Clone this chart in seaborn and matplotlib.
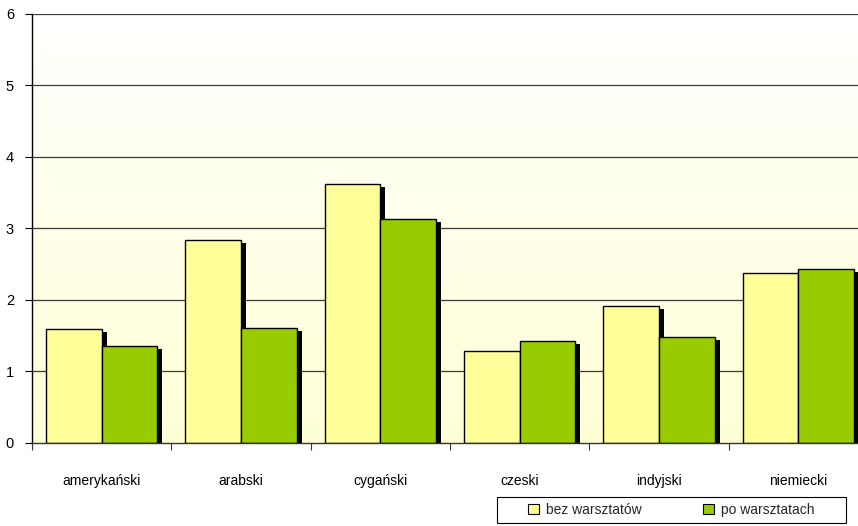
import numpy as np
import pandas as pd
import matplotlib
matplotlib.use('Agg')
import matplotlib.pyplot as plt
import matplotlib.patheffects as pe
from matplotlib.patches import Patch, Rectangle
import seaborn as sns

# Dane
kategorie = ['amerykański', 'arabski', 'cygański', 'czeski', 'indyjski', 'niemiecki']
bez_warsztatow = [1.59, 2.84, 3.62, 1.29, 1.92, 2.38]
po_warsztatach = [1.36, 1.61, 3.13, 1.43, 1.48, 2.43]
serie = ['bez warsztatów', 'po warsztatach']
kolory = ['#FFFF99', '#99CC00']

df = pd.DataFrame({
    'kategoria': kategorie * 2,
    'wartosc': bez_warsztatow + po_warsztatach,
    'seria': [serie[0]] * len(kategorie) + [serie[1]] * len(kategorie),
})

sns.set_theme(style='white')
plt.rcParams['font.family'] = ['Liberation Sans', 'DejaVu Sans']

fig = plt.figure(figsize=(8.58, 5.26), dpi=100)
ax = fig.add_axes([0.0373, 0.1578, 0.9744, 0.8156])

# tlo z gradientem
grad = np.linspace(0, 1, 256).reshape(-1, 1)
cmap = matplotlib.colors.LinearSegmentedColormap.from_list('bg', ['#FFFFD6', '#FFFFFF'])
ax.imshow(grad, cmap=cmap, aspect='auto', extent=[-0.5, 5.5, 0, 6],
          origin='lower', zorder=0)

sns.barplot(data=df, x='kategoria', y='wartosc', hue='seria', palette=kolory,
            width=0.8, edgecolor='black', linewidth=1, saturation=1,
            legend=False, ax=ax, zorder=3)

for p in ax.patches:
    p.set_path_effects([pe.SimplePatchShadow(offset=(3.6, -2.2), shadow_rgbFace='black', alpha=1),
                        pe.Normal()])

ax.set_xlim(-0.5, 5.5)
ax.set_ylim(0, 6)
ax.set_yticks(range(7))
for y in range(1, 7):
    ax.axhline(y, color='#3a3a3a', lw=0.9, zorder=1)

ax.set_xlabel('')
ax.set_ylabel('')
ax.set_xticks(np.arange(6))
ax.set_xticks(np.arange(-0.5, 6, 1), minor=True)
ax.tick_params(axis='x', which='major', length=0, pad=22, labelsize=10, colors='black')
ax.tick_params(axis='x', which='minor', length=5, width=0.8, color='#333333', bottom=True)
ax.tick_params(axis='y', which='major', length=5, width=0.8, color='black', left=True,
               pad=8, labelsize=10.5, labelcolor='black')

for s in ['top', 'right']:
    ax.spines[s].set_visible(False)
ax.spines['left'].set_color('black')
ax.spines['left'].set_linewidth(1)
ax.spines['bottom'].set_color('#333333')
ax.spines['bottom'].set_linewidth(1)
ax.spines['left'].set_zorder(5)
ax.spines['bottom'].set_zorder(5)

# ramka legendy
fig.patches.append(Rectangle((0.579, 0.006), 0.407, 0.049, transform=fig.transFigure,
                             facecolor='white', edgecolor='black', linewidth=0.8, zorder=1))
uchwyty = [Patch(facecolor=c, edgecolor='black', linewidth=0.8) for c in kolory]
leg = fig.legend(uchwyty, serie, loc='center', bbox_to_anchor=(0.7825, 0.0305),
                 ncol=2, frameon=False, fontsize=10,
                 handlelength=0.8, handleheight=0.8, handletextpad=0.5,
                 borderaxespad=0, borderpad=0, columnspacing=4.4)
leg.set_zorder(2)

fig.savefig('out.png', dpi=100)
